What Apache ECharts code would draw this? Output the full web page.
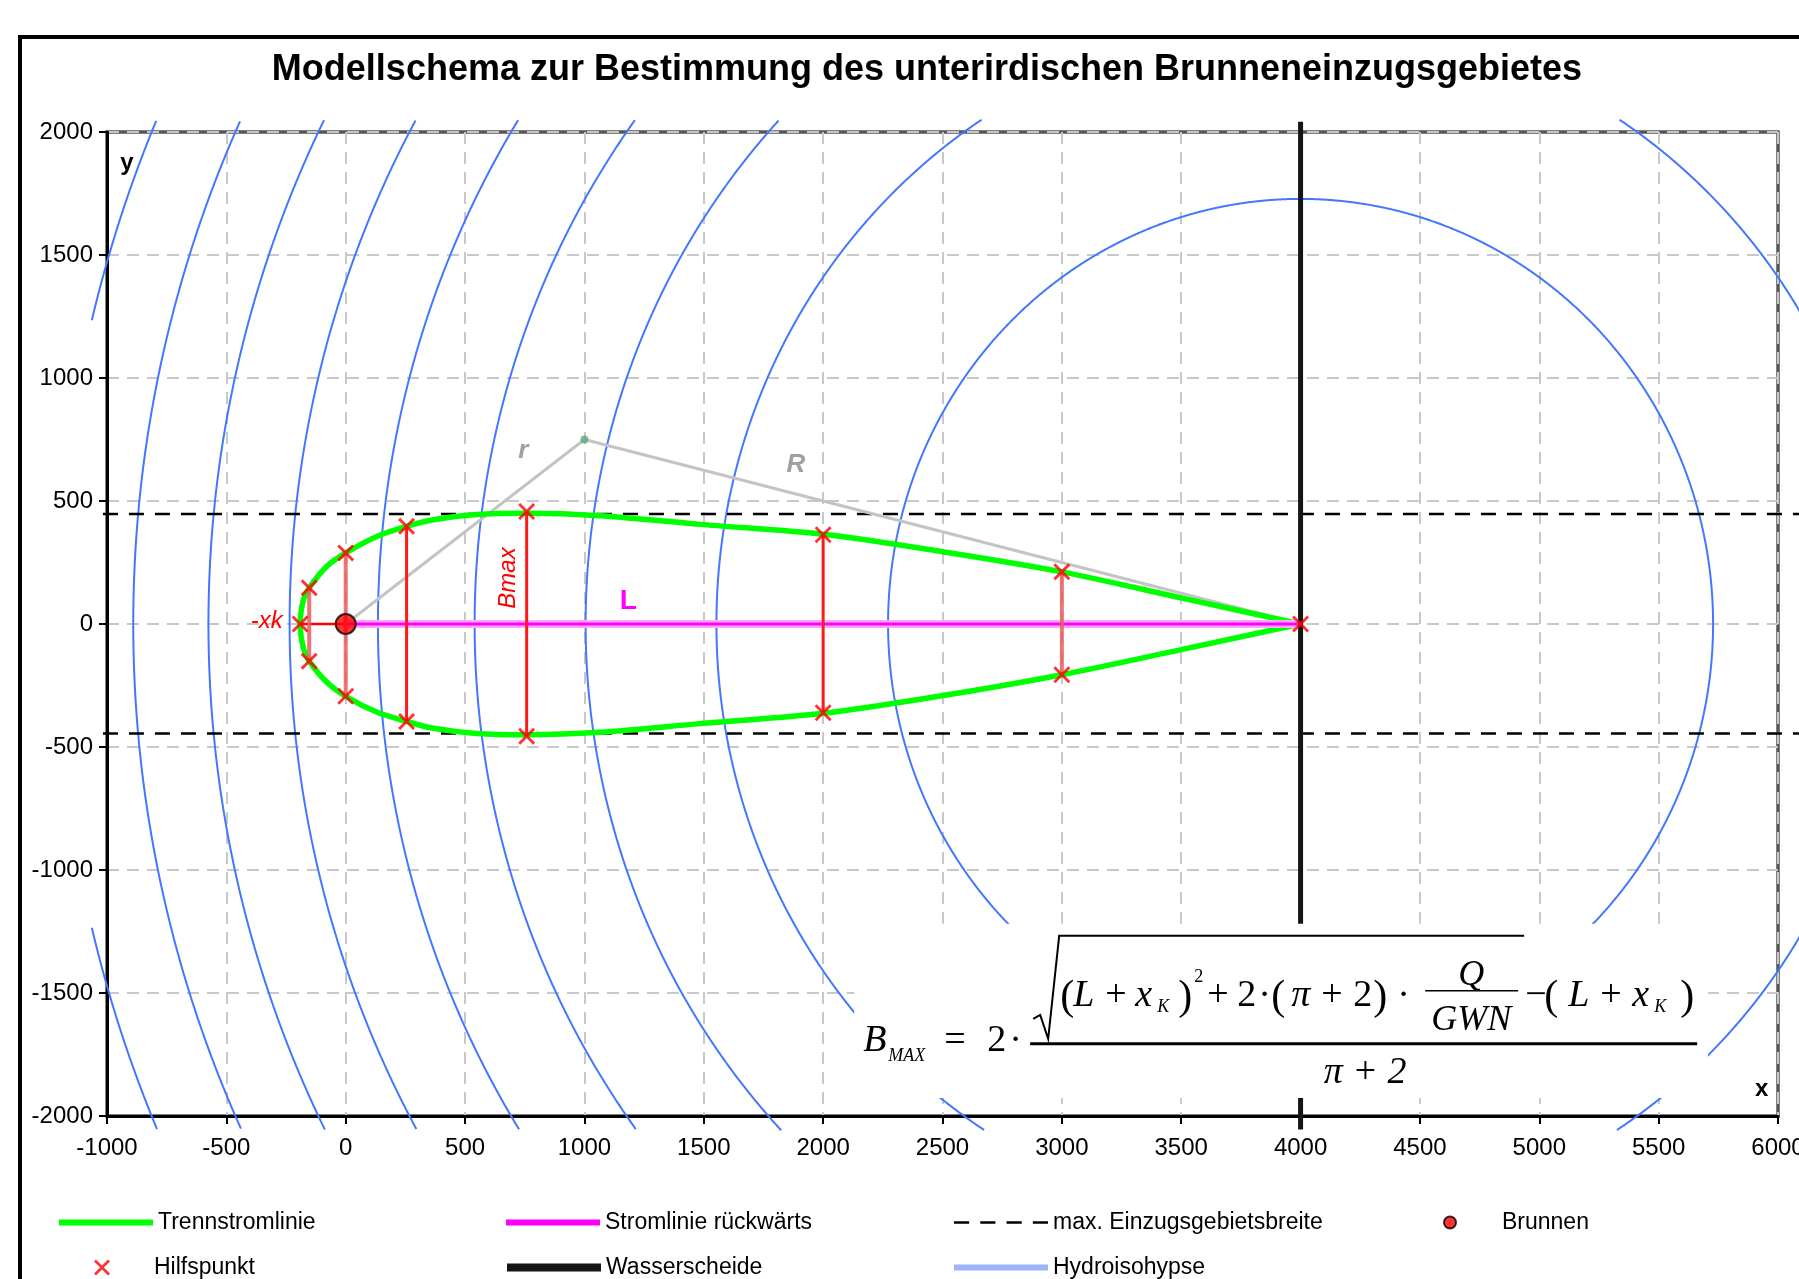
<!DOCTYPE html>
<html><head><meta charset="utf-8">
<script src="https://cdn.jsdelivr.net/npm/echarts@6/dist/echarts.min.js"></script>
<style>html,body{margin:0;padding:0;background:#fff}#c{width:1799px;height:1279px}</style>
</head><body><div id="c"></div>
<script>
// ---------------- data ----------------
const xMin = -1000, xMax = 6000, xStep = 500;
const yMin = -2000, yMax = 2000, yStep = 500;

// Trennstromlinie (separating streamline)
const trennUpperX = [-191, -177, -153, -80, 0, 130, 255, 367, 547, 758, 1065, 1484, 2000, 2494, 3000, 3500, 4000];
const trennUpperY = [0, 99, 147, 234, 289, 356, 397, 424, 445, 450, 440, 405, 365, 295, 212, 106, 0];
const trennLowerX = [-191, -177, -153, -80, 0, 130, 255, 367, 547, 758, 1065, 1484, 2000, 2494, 3000, 3500, 4000];
const trennLowerY = [0, -99, -151, -236, -294, -358, -396, -424, -445, -450, -440, -405, -363, -292, -206, -104, 0];

// Hilfspunkte (auxiliary points)
const hilfX = [-191, -153, -153, 0, 0, 255, 255, 758, 758, 2000, 2000, 3000, 3000, 4000];
const hilfY = [0, 147, -151, 289, -294, 397, -396, 457, -456, 363, -361, 212, -206, 0];

// vertical auxiliary sections
const sectionsStrongX = [255, 758, 2000];
const sectionsStrongTop = [397, 457, 363];
const sectionsStrongBottom = [-396, -456, -361];
const sectionsLightX = [-153, 0, 3000];
const sectionsLightTop = [147, 289, 212];
const sectionsLightBottom = [-151, -294, -206];

const xkLineX = [-191, 0];
const xkLineY = [0, 0];

const brunnenX = [0];
const brunnenY = [0];

const stromX = [0, 4000];
const stromY = [0, 0];

const wasserX = [4000, 4000];
const wasserY = [2042, -2055];

const maxBreiteY = [447, -445];
const maxBreiteX = [-1017, 6120];

const radiusPathX = [0, 1000, 4000];
const radiusPathY = [0, 750, 0];
const helpPointX = [1000];
const helpPointY = [750];

const isoCenter = [4000, 0];
const isoRadii = [1728, 2447, 2995, 3460, 3865, 4235, 4575, 4890, 5212];
const isoExtent = { x0: -1065, x1: 6120, y0: -2058, y1: 2050 };

const formulaBoxData = [[2130, -1219], [5707, -1927]];

// ---------------- helpers ----------------
const F = 'Liberation Sans, Arial, sans-serif';
const FS = 'Liberation Serif, Times New Roman, serif';
const zip = (xs, ys) => xs.map((x, i) => [x, ys[i]]);

function arcRuns(R) {
  const runs = []; let cur = [];
  for (let a = 0; a <= 3600; a++) {
    const t = a * Math.PI / 1800;
    const x = isoCenter[0] + R * Math.cos(t), y = isoCenter[1] + R * Math.sin(t);
    if (x >= isoExtent.x0 && x <= isoExtent.x1 && y >= isoExtent.y0 && y <= isoExtent.y1) cur.push([x, y]);
    else { if (cur.length > 1) runs.push(cur); cur = []; }
  }
  if (cur.length > 1) runs.push(cur);
  return runs;
}

// unclipped polylines drawn through the cartesian scales (api.coord)
function polySeries(name, runs, style, z, legendColor) {
  return {
    name: name, type: 'custom', coordinateSystem: 'cartesian2d', clip: false, silent: true, z: z,
    data: runs.map((r, i) => [i, 0]), encode: { x: 0, y: 1 },
    itemStyle: { color: legendColor || style.stroke },
    renderItem: (params, api) => ({
      type: 'polyline',
      shape: { points: runs[params.dataIndex].map(p => api.coord(p)) },
      style: Object.assign({ fill: null }, style)
    })
  };
}

const series = [];
let isoRuns = [];
isoRadii.forEach(R => { isoRuns = isoRuns.concat(arcRuns(R)); });
series.push(polySeries('Hydroisohypse', isoRuns, { stroke: '#4477ff', lineWidth: 2 }, 2, '#9db5ff'));

series.push(polySeries('max. Einzugsgebietsbreite',
  maxBreiteY.map(y => zip(maxBreiteX, maxBreiteX.map(() => y))),
  { stroke: '#000', lineWidth: 2.5, lineDash: [15, 11] }, 3, '#000'));

series.push({
  name: 'radius', type: 'line', symbol: 'none', silent: true, data: zip(radiusPathX, radiusPathY),
  lineStyle: { color: '#c4c4c4', width: 3 }, z: 3
});

const trennPath = zip(trennUpperX, trennUpperY).reverse().concat(zip(trennLowerX, trennLowerY).slice(1));
series.push({
  name: 'Trennstromlinie', type: 'line', symbol: 'none', smooth: 0.3, silent: true, data: trennPath,
  lineStyle: { color: '#00ff00', width: 5.5 }, z: 4
});

series.push({
  name: 'stromHalo', type: 'line', symbol: 'none', silent: true, data: zip(stromX, stromY),
  lineStyle: { color: '#ffa8ff', width: 8 }, z: 5
});
series.push({
  name: 'Stromlinie rückwärts', type: 'line', symbol: 'none', silent: true, data: zip(stromX, stromY),
  lineStyle: { color: '#ff00ff', width: 3 }, z: 5
});

series.push({
  name: 'Wasserscheide', type: 'line', symbol: 'none', clip: false, silent: true, data: zip(wasserX, wasserY),
  lineStyle: { color: '#151515', width: 5 }, z: 5
});

series.push({
  name: 'xk', type: 'line', symbol: 'none', silent: true, data: zip(xkLineX, xkLineY),
  lineStyle: { color: '#ff0000', width: 2.5 }, z: 6
});

sectionsLightX.forEach((x, i) => series.push({
  name: 'sectionLight', type: 'line', symbol: 'none', silent: true,
  data: [[x, sectionsLightTop[i]], [x, sectionsLightBottom[i]]],
  lineStyle: { color: 'rgba(232,92,92,0.85)', width: 4 }, z: 6
}));
sectionsStrongX.forEach((x, i) => series.push({
  name: 'sectionStrong', type: 'line', symbol: 'none', silent: true,
  data: [[x, sectionsStrongTop[i]], [x, sectionsStrongBottom[i]]],
  lineStyle: { color: '#ff1a1a', width: 3 }, z: 6
}));

series.push({
  name: 'helpPoint', type: 'scatter', silent: true, data: zip(helpPointX, helpPointY),
  symbol: 'circle', symbolSize: 8, itemStyle: { color: '#5fa982' }, z: 6
});

const xPath = 'path://M0,1.2 L1.2,0 L5,3.8 L8.8,0 L10,1.2 L6.2,5 L10,8.8 L8.8,10 L5,6.2 L1.2,10 L0,8.8 L3.8,5 Z';
series.push({
  name: 'Hilfspunkt', type: 'scatter', silent: true, data: zip(hilfX, hilfY),
  symbol: xPath, symbolSize: 17, itemStyle: { color: '#ff0000' }, z: 7
});

series.push({
  name: 'Brunnen', type: 'scatter', silent: true, data: zip(brunnenX, brunnenY),
  symbol: 'circle', symbolSize: 20, itemStyle: { color: '#ff0000', borderColor: '#000', borderWidth: 2 }, z: 8
});

// legend layout
const barIcon = 'path://M0,0H94V6H0Z';
const dashIcon = 'path://M0,0H15V2.5H0Z M26,0H41V2.5H26Z M52,0H67V2.5H52Z M78,0H93V2.5H78Z';
const legendDefs = [
  { name: 'Trennstromlinie', left: 56, top: 1211, line: 6 },
  { name: 'Hilfspunkt', left: 94, top: 1256 },
  { name: 'Stromlinie rückwärts', left: 503, top: 1211, line: 6 },
  { name: 'Wasserscheide', left: 503, top: 1256, line: 8 },
  { name: 'max. Einzugsgebietsbreite', left: 954, top: 1211, icon: dashIcon },
  { name: 'Hydroisohypse', left: 954, top: 1256, icon: barIcon },
  { name: 'Brunnen', left: 1443, top: 1211, small: true }
];
const legends = legendDefs.map(d => {
  const item = { name: d.name };
  if (d.line) {
    item.itemStyle = { opacity: 0 };
    item.lineStyle = { width: d.line };
  }
  if (d.icon) {
    item.icon = d.icon;
    item.itemStyle = { borderWidth: 0 };
  }
  return {
    data: [item], left: d.left, top: d.top, padding: 0, itemWidth: 94, itemHeight: d.small ? 12 : 16,
    selectedMode: false, textStyle: { fontSize: 23, fontFamily: F, color: '#000' }
  };
});

const axisCommon = {
  type: 'value',
  axisLine: { onZero: false, lineStyle: { color: '#000', width: 3 } },
  axisTick: { length: 8, lineStyle: { color: '#000', width: 2 } },
  splitLine: { lineStyle: { color: '#c8c8c8', width: 2, type: [12, 8] } },
  axisLabel: { fontSize: 24, color: '#000', fontFamily: F, formatter: v => String(v) }
};

const chart = echarts.init(document.getElementById('c'), null, { renderer: 'canvas', width: 1799, height: 1279 });
chart.setOption({
  animation: false,
  backgroundColor: '#fff',
  grid: { left: 107, right: 21, top: 132, bottom: 163, containLabel: false, outerBoundsMode: 'none', show: true, borderColor: '#555', borderWidth: 3.5, backgroundColor: 'transparent' },
  xAxis: Object.assign({}, axisCommon, { min: xMin, max: xMax, interval: xStep, axisLabel: Object.assign({}, axisCommon.axisLabel, { margin: 20 }) }),
  yAxis: Object.assign({}, axisCommon, { min: yMin, max: yMax, interval: yStep, axisLabel: Object.assign({}, axisCommon.axisLabel, { margin: 14 }) }),
  legend: legends,
  series: series
});

// ---------------- annotations & formula ----------------
const px = (x, y) => chart.convertToPixel({ gridIndex: 0 }, [x, y]);
const g = [];
// outer frame
g.push({ type: 'rect', shape: { x: 20, y: 37, width: 1830, height: 1300 }, style: { fill: null, stroke: '#000', lineWidth: 4 }, z: 100 });
// title
g.push({ type: 'text', x: 927, y: 70, style: { text: 'Modellschema zur Bestimmung des unterirdischen Brunneneinzugsgebietes', font: 'bold 36px ' + F, fill: '#000', align: 'center', verticalAlign: 'middle' }, z: 100 });

function label(txt, x, y, font, color, rot) {
  const p = px(x, y);
  g.push({ type: 'text', x: p[0], y: p[1], rotation: rot || 0, style: { text: txt, font: font, fill: color, align: 'center', verticalAlign: 'middle' }, z: 50 });
}
label('r', 744, 702, 'italic bold 26px ' + F, '#a0a0a0');
label('R', 1886, 648, 'italic bold 26px ' + F, '#a0a0a0');
label('Bmax', 681, 187, 'italic 24px ' + F, '#ff0000', Math.PI / 2);
label('L', 1184, 92, 'bold 28px ' + F, '#ff00ff');
label('-xk', -331, 11, 'italic 24px ' + F, '#ff0000');
label('y', -917, 1873, 'bold 24px ' + F, '#000');
label('x', 5932, -1892, 'bold 24px ' + F, '#000');

// formula box
const b0 = px(formulaBoxData[0][0], formulaBoxData[0][1]);
const b1 = px(formulaBoxData[1][0], formulaBoxData[1][1]);
const bx = b0[0], by = b0[1];
g.push({ type: 'rect', shape: { x: bx, y: by, width: b1[0] - bx, height: b1[1] - by }, style: { fill: '#fff', stroke: null }, z: 60 });

// [text, x offset, baseline offset, size, italic, align]
const fparts = [
  ['B', 9, 130, 38, true], ['MAX', 34, 139, 18, true], ['=', 90, 130, 38, false], ['2', 133, 130, 38, false], ['\u00b7', 155, 130, 38, false],
  ['(', 206, 88, 42, false], ['L', 219, 85, 38, true], ['+', 251, 85, 38, false], ['x', 281, 85, 38, true], ['K', 303, 90, 18, true],
  [')', 324, 88, 42, false], ['2', 340, 60, 18, false], ['+', 353, 85, 38, false], ['2', 383, 85, 38, false], ['\u00b7', 404, 85, 38, false],
  ['(', 417, 88, 42, false], ['\u03c0', 437, 85, 38, true], ['+', 467, 85, 38, false], ['2', 499, 85, 38, false], [')', 519, 88, 42, false],
  ['\u00b7', 543, 85, 38, false], ['Q', 617, 64, 36, true, 'center'], ['GWN', 617, 109, 36, true, 'center'],
  ['\u2212', 671, 85, 38, false], ['(', 690, 88, 42, false], ['L', 714, 85, 38, true], ['+', 746, 85, 38, false], ['x', 778, 85, 38, true],
  ['K', 800, 90, 18, true], [')', 826, 88, 42, false],
  ['\u03c0 + 2', 511, 162, 38, true, 'center']
];
fparts.forEach(p => {
  g.push({ type: 'text', x: bx + p[1], y: by + p[2] - 0.34 * p[3],
    style: { text: p[0], font: (p[4] ? 'italic ' : '') + p[3] + 'px ' + FS, fill: '#000', align: p[5] || 'left', verticalAlign: 'middle' }, z: 70 });
});
g.push({ type: 'line', shape: { x1: bx + 176, y1: by + 120, x2: bx + 843, y2: by + 120 }, style: { stroke: '#000', lineWidth: 3 }, z: 70 });
g.push({ type: 'line', shape: { x1: bx + 571, y1: by + 67, x2: bx + 664, y2: by + 67 }, style: { stroke: '#000', lineWidth: 1.5 }, z: 70 });
g.push({ type: 'polyline', shape: { points: [[bx + 179, by + 95], [bx + 186, by + 91], [bx + 194, by + 115], [bx + 205, by + 12], [bx + 670, by + 12]] }, style: { stroke: '#000', lineWidth: 2, fill: null }, z: 70 });

chart.setOption({ graphic: { elements: g } });
</script>
</body></html>
